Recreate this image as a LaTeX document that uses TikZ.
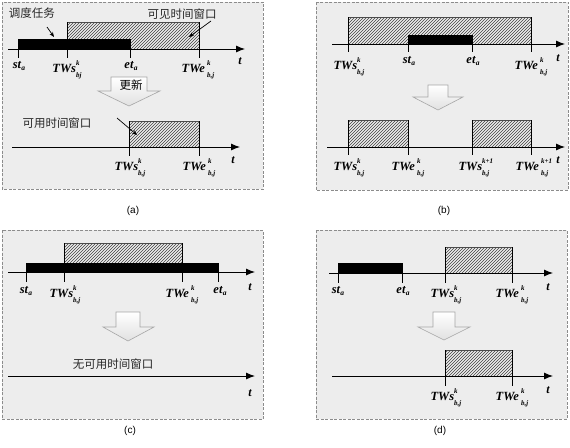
\documentclass[tikz,border=0pt]{standalone}
\usepackage{fontspec}
\setmainfont{Liberation Serif}
\newfontfamily\cjk{Noto Sans CJK SC}
\newfontfamily\capfont{Liberation Sans}
\usetikzlibrary{arrows.meta,patterns}
\newcommand{\bi}[1]{\textbf{\textit{#1}}}
\newcommand{\supsub}[2]{\rlap{\raisebox{7pt}{\fontsize{7}{7}\selectfont\bi{#1}}}\raisebox{-5pt}{\fontsize{7}{7}\selectfont\bi{#2}}}
\newcommand{\lblTWs}[2]{\bi{TWs}\supsub{#1}{#2}}
\newcommand{\lblTWe}[2]{\bi{TWe}\,\supsub{#1}{#2}}
\newcommand{\lblsub}[2]{\bi{#1}\raisebox{-2.5pt}{\fontsize{7.5}{8}\selectfont\bi{#2}}}
\tikzset{
  panel/.style={draw=black!45, dashed, dash pattern=on 3pt off 1.5pt, fill=black!7, line width=0.8pt},
  axisline/.style={draw=black, line width=0.9pt, -{Latex[length=9pt,width=7pt]}},
  tickline/.style={draw=black, line width=0.8pt},
  hatchbox/.style={fill=white, pattern=north east lines, pattern color=black!75, draw=black!70, line width=0.4pt},
  taskbar/.style={fill=black, draw=black},
  lbl/.style={anchor=north, inner sep=1pt, font=\fontsize{12.5}{14}\selectfont},
  tlbl/.style={inner sep=0pt, font=\fontsize{12}{13}\selectfont\bfseries\itshape},
  cn/.style={inner sep=0pt, font=\cjk\fontsize{11.5}{13}\selectfont, text=black!85},
  captext/.style={inner sep=0pt, font=\capfont\fontsize{10}{11}\selectfont},
  pointer/.style={draw=black, line width=0.7pt, -{Stealth[length=5pt,width=4pt]}},
  blockarrow/.style={draw=black!35, line width=0.6pt, top color=white, bottom color=black!12},
}
\begin{document}
\begin{tikzpicture}[x=1pt,y=-1pt]
\useasboundingbox (0,0) rectangle (570,447);
\fill[white] (0,0) rectangle (570,447);

% ================= panel (a) =================
\draw[panel] (2,2) rectangle (263,189);
\draw[hatchbox] (67,22) rectangle (199,49);
\draw[taskbar] (18,39) rectangle (130,49);
\coordinate (a1s) at (8,49); \coordinate (a1e) at (245,49);
\draw[axisline] (a1s) -- (a1e);
\draw[tickline] (18,39) -- (18,58);
\draw[tickline] (67,22) -- (67,58);
\draw[tickline] (130,39) -- (130,58);
\draw[tickline] (199,22) -- (199,58);
\node[lbl] (a1st) at (19,60) {\lblsub{st}{a}};
\node[lbl] (a1tws) at (67,59) {\lblTWs{k}{bj}};
\node[lbl] (a1et) at (131,60) {\lblsub{et}{a}};
\node[lbl] (a1twe) at (198,59) {\lblTWe{k}{b,j}};
\node[tlbl] (a1t) at (240,61) {t};
\node[cn] (a1task) at (32,13) {调度任务};
\coordinate (a1taskp) at (54,37);
\draw[pointer] (47,27) -- (a1taskp);
\node[cn] (a1vis) at (182,14) {可见时间窗口};
\coordinate (a1visp) at (189,37);
\draw[pointer] (211,21) -- (a1visp);
% block arrow
\draw[blockarrow] (111,77) -- (147,77) -- (147,91) -- (160,91) -- (129,106) -- (98,91) -- (111,91) -- cycle;
\node[cn, text=black] (a1upd) at (131,85) {更新};
\coordinate (a2s) at (12,147); \coordinate (a2e) at (240,147);
\draw[hatchbox] (129,121) rectangle (199,147);
\draw[axisline] (a2s) -- (a2e);
\draw[tickline] (129,121) -- (129,156);
\draw[tickline] (199,121) -- (199,156);
\node[lbl] (a2tws) at (130,157) {\lblTWs{k}{b,j}};
\node[lbl] (a2twe) at (199,157) {\lblTWe{k}{b,j}};
\node[tlbl] (a2t) at (233,160) {t};
\node[cn] (a2avl) at (57,123) {可用时间窗口};
\coordinate (a2avlp) at (137,135);
\draw[pointer] (117,118) -- (a2avlp);
\node[captext] (capa) at (133,211) {(a)};

% ================= panel (b) =================
\draw[panel] (316,2) rectangle (568,190);
\draw[hatchbox] (348,17) rectangle (531,44);
\draw[taskbar] (408,35) rectangle (472,44);
\coordinate (b1s) at (332,44); \coordinate (b1e) at (565,44);
\draw[axisline] (b1s) -- (b1e);
\draw[tickline] (348,17) -- (348,52);
\draw[tickline] (531,17) -- (531,52);
\draw[tickline] (408,35) -- (408,52);
\draw[tickline] (472,35) -- (472,52);
\node[lbl] (b1tws) at (349,56) {\lblTWs{k}{b,j}};
\node[lbl] (b1st) at (409,55) {\lblsub{st}{a}};
\node[lbl] (b1et) at (473,55) {\lblsub{et}{a}};
\node[lbl] (b1twe) at (531,56) {\lblTWe{k}{b,j}};
\node[tlbl] (b1t) at (558,58) {t};
\draw[blockarrow] (428,85) -- (448,85) -- (448,97) -- (463,97) -- (438,110) -- (413,97) -- (428,97) -- cycle;
\coordinate (b2s) at (327,147); \coordinate (b2e) at (565,147);
\draw[hatchbox] (348,120) rectangle (408,147);
\draw[hatchbox] (472,120) rectangle (531,147);
\draw[axisline] (b2s) -- (b2e);
\draw[tickline] (348,120) -- (348,155);
\draw[tickline] (408,120) -- (408,155);
\draw[tickline] (472,120) -- (472,155);
\draw[tickline] (531,120) -- (531,155);
\node[lbl] (b2tws) at (349,157) {\lblTWs{k}{b,j}};
\node[lbl] (b2twe) at (408,157) {\lblTWe{k}{b,j}};
\node[lbl] (b2tws1) at (474,157) {\lblTWs{k+1}{b,j}};
\node[lbl] (b2twe1) at (532,157) {\lblTWe{k+1}{b,j}};
\node[tlbl] (b2t) at (558,160) {t};
\node[captext] (capb) at (444,211) {(b)};

% ================= panel (c) =================
\draw[panel] (2,230) rectangle (263,419);
\draw[hatchbox] (64,243) rectangle (182,263);
\draw[taskbar] (26,263) rectangle (218,272);
\coordinate (c1s) at (8,272); \coordinate (c1e) at (255,272);
\draw[axisline] (c1s) -- (c1e);
\draw[tickline] (26,263) -- (26,282);
\draw[tickline] (218,263) -- (218,282);
\draw[tickline] (64,243) -- (64,282);
\draw[tickline] (182,243) -- (182,282);
\node[lbl] (c1st) at (26,285) {\lblsub{st}{a}};
\node[lbl] (c1tws) at (65,284) {\lblTWs{k}{b,j}};
\node[lbl] (c1twe) at (182,284) {\lblTWe{k}{b,j}};
\node[lbl] (c1et) at (220,285) {\lblsub{et}{a}};
\node[tlbl] (c1t) at (250,287) {t};
\draw[blockarrow] (116,312) -- (140,312) -- (140,327) -- (154,327) -- (128,341) -- (103,327) -- (116,327) -- cycle;
\node[cn] (c2none) at (113,364) {无可用时间窗口};
\coordinate (c2s) at (8,376); \coordinate (c2e) at (255,376);
\draw[axisline] (c2s) -- (c2e);
\node[tlbl] (c2t) at (250,393) {t};
\node[captext] (capc) at (130,431) {(c)};

% ================= panel (d) =================
\draw[panel] (316,230) rectangle (567,419);
\draw[hatchbox] (445,247) rectangle (512,273);
\draw[taskbar] (338,263) rectangle (402,273);
\coordinate (d1s) at (329,273); \coordinate (d1e) at (553,273);
\draw[axisline] (d1s) -- (d1e);
\draw[tickline] (338,263) -- (338,283);
\draw[tickline] (402,263) -- (402,283);
\draw[tickline] (445,247) -- (445,283);
\draw[tickline] (512,247) -- (512,283);
\node[lbl] (d1st) at (338,285) {\lblsub{st}{a}};
\node[lbl] (d1et) at (403,285) {\lblsub{et}{a}};
\node[lbl] (d1tws) at (446,284) {\lblTWs{k}{b,j}};
\node[lbl] (d1twe) at (512,284) {\lblTWe{k}{b,j}};
\node[tlbl] (d1t) at (548,287) {t};
\draw[blockarrow] (433,312) -- (455,312) -- (455,327) -- (470,327) -- (444,340) -- (418,327) -- (433,327) -- cycle;
\coordinate (d2s) at (332,376); \coordinate (d2e) at (553,376);
\draw[hatchbox] (445,350) rectangle (512,376);
\draw[axisline] (d2s) -- (d2e);
\draw[tickline] (445,350) -- (445,386);
\draw[tickline] (512,350) -- (512,386);
\node[lbl] (d2tws) at (446,387) {\lblTWs{k}{b,j}};
\node[lbl] (d2twe) at (512,387) {\lblTWe{k}{b,j}};
\node[tlbl] (d2t) at (548,390) {t};
\node[captext] (capd) at (440,431) {(d)};
\end{tikzpicture}
\end{document}
